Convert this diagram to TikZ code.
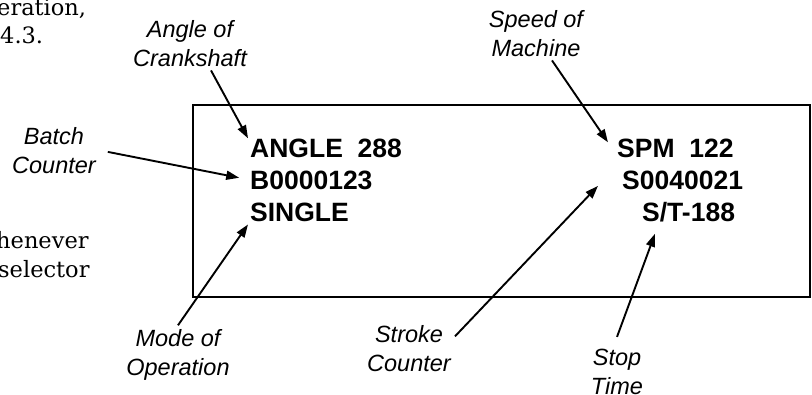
\documentclass[tikz,border=0pt]{standalone}
\usepackage{fontspec}
\newfontfamily\helv{Liberation Sans}
\newfontfamily\pgserif{DejaVu Serif}
\usetikzlibrary{arrows.meta}

\begin{document}
\begin{tikzpicture}[
    x=1pt, y=-1pt,
    every node/.style={inner sep=0pt},
    val/.style={anchor=base west, font=\helv\bfseries\fontsize{26.5}{32}\selectfont},
    lbl/.style={align=center, anchor=base, inner sep=4pt,
                font=\helv\itshape\fontsize{23.5}{28.5}\selectfont},
    pg/.style={anchor=base west, font=\pgserif\fontsize{22.5}{28}\selectfont},
    frame/.style={draw, line width=2.4pt, minimum width=617pt, minimum height=192pt},
    e/.style={-{Triangle[length=13pt, width=9pt]}, line width=1.9pt},
  ]
  \useasboundingbox (0,0) rectangle (812,394);
  % page text cut by the crop
  \node[pg] (pg1) at (-3,15) {eration,};
  \node[pg] (pg2) at (0,43) {4.3.};
  \node[pg] (pg3) at (-4,248) {henever};
  \node[pg] (pg4) at (-2,277) {selector};
  % display
  \node[frame] (disp) at (501.5,201) {};
  \node[val] (angle) at (250,157) {ANGLE~~288};
  \node[val] (batch) at (250,189) {B0000123};
  \node[val] (mode) at (250,221) {SINGLE};
  \node[val] (spm) at (617,157) {SPM~~122};
  \node[val] (strk) at (622,189) {S0040021};
  \node[val] (stop) at (642,221) {S/T-188};
  % labels
  \node[lbl] (cranklbl) at (190,66) {Angle of\\Crankshaft};
  \node[lbl] (batchlbl) at (54,173) {Batch\\Counter};
  \node[lbl] (modelbl) at (178,375) {Mode of\\Operation};
  \node[lbl] (strokelbl) at (409,371) {Stroke\\Counter};
  \node[lbl] (speedlbl) at (536,56) {Speed of\\Machine};
  \node[lbl] (stoplbl) at (617,394) {Stop\\Time};
  \draw[e] ([shift={(21,0)}]cranklbl.south) -- ([shift={(-2,0)}]angle.north west);
  \draw[e, shorten <=8pt, shorten >=11pt] (batchlbl.east) -- (batch.west);
  \draw[e] (modelbl.north) -- ([shift={(-2,3)}]mode.south west);
  \draw[e] ([shift={(0,-12)}]strokelbl.east) -- ([shift={(-24,6)}]strk.west);
  \draw[e] ([shift={(16,0)}]speedlbl.south) -- ([shift={(-9,4)}]spm.north west);
  \draw[e] ([shift={(0,-8)}]stoplbl.north) -- ([shift={(13,12)}]stop.south west);
\end{tikzpicture}
\end{document}
